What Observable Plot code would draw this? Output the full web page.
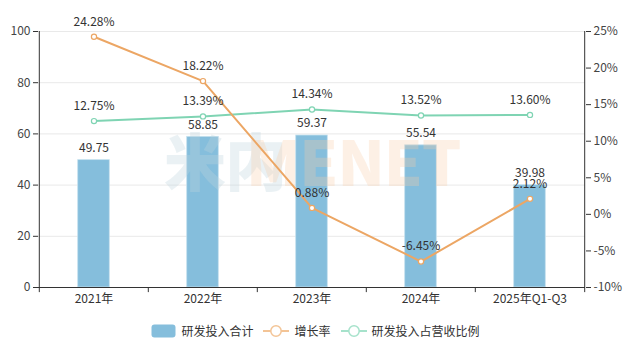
<!DOCTYPE html>
<html>
<head>
<meta charset="utf-8">
<script src="https://cdn.jsdelivr.net/npm/d3@7"></script>
<script src="https://cdn.jsdelivr.net/npm/@observablehq/plot@0.6"></script>
<style>
  html, body { margin: 0; padding: 0; background: #fff; }
  body { width: 635px; height: 357px; overflow: hidden; font-family: "Noto Sans CJK SC", "Noto Sans", sans-serif; }
  #wrap { position: relative; width: 635px; height: 315px; }
  #wrap > svg, #wrap > div { position: absolute; left: 0; top: 0; }
  #wm { width: 635px; height: 315px; pointer-events: none; }
  #wm span { position: absolute; font-weight: 900; font-size: 62px; line-height: 1; letter-spacing: -1px; }
  #legend { display: flex; justify-content: center; align-items: center; gap: 10px; margin-top: 7px; font-size: 12px; color: #333; padding-right: 4px; }
  #legend .item { display: flex; align-items: center; gap: 5px; }
</style>
</head>
<body>
<div id="wrap"></div>
<div id="legend"></div>
<script>
const categories = ["2021年", "2022年", "2023年", "2024年", "2025年Q1-Q3"];
const rdTotal = [49.75, 58.85, 59.37, 55.54, 39.98];
const growthRate = [24.28, 18.22, 0.88, -6.45, 2.12];
const rdRatio = [12.75, 13.39, 14.34, 13.52, 13.60];
const leftTicks = [0, 20, 40, 60, 80, 100];
const rightTicks = [-10, -5, 0, 5, 10, 15, 20, 25];
const seriesNames = ["研发投入合计", "增长率", "研发投入占营收比例"];

const rows = categories.map((c, i) => ({cat: c, total: rdTotal[i], growth: growthRate[i], ratio: rdRatio[i]}));

const W = 635, H = 315, ML = 38, MR = 50, MT = 31, MB = 28;
const bw = (W - ML - MR) / categories.length;
const barW = 32;
const barColor = "#85bedc", orange = "#eca664", green = "#7fd4b3";
const font = {fontFamily: "'Noto Sans CJK SC', 'Noto Sans', sans-serif", fontSize: "12px", color: "#333", background: "transparent"};
const xScale = {type: "band", domain: categories, padding: 0};

const chart1 = Plot.plot({
  width: W, height: H, marginLeft: ML, marginRight: MR, marginTop: MT, marginBottom: MB,
  style: font,
  x: xScale,
  y: {domain: [0, 100]},
  marks: [
    Plot.gridY(leftTicks, {stroke: "#e9e9e9", strokeOpacity: 1}),
    Plot.barY(rows, {x: "cat", y: "total", fill: barColor, stroke: "#c6e1ee", strokeWidth: 0.8, insetLeft: (bw - barW) / 2, insetRight: (bw - barW) / 2}),
    Plot.text(rows, {x: "cat", y: "total", text: d => d.total.toFixed(2), dy: -12, fill: "#333", fontSize: 12}),
    Plot.axisY(leftTicks, {tickSize: 5, tickPadding: 3, stroke: "#333", fill: "#444", fontSize: 12, label: null}),
    Plot.axisX({tickSize: 0, tickPadding: 7, fill: "#333", fontSize: 12, label: null}),
    Plot.ruleY([0], {stroke: "#333"}),
    Plot.ruleX([categories[0]], {dx: -bw / 2, stroke: "#333"}),
    Plot.ruleX(categories, {dx: -bw / 2, y1: 0, y2: -2, stroke: "#333"}),
    Plot.ruleX([categories[categories.length - 1]], {dx: bw / 2, y1: 0, y2: -2, stroke: "#333"})
  ]
});
document.getElementById("wrap").appendChild(chart1);

const wm = document.createElement("div");
wm.id = "wm";
wm.innerHTML = '<span style="left:164px;top:128px;color:rgba(190,210,222,0.32)">米内</span><span style="left:246px;top:128px;color:rgba(250,205,170,0.3)">MENET</span>';
document.getElementById("wrap").appendChild(wm);

const chart2 = Plot.plot({
  width: W, height: H, marginLeft: ML, marginRight: MR, marginTop: MT, marginBottom: MB,
  style: font,
  x: {...xScale, axis: null},
  y: {domain: [-10, 25], axis: null},
  marks: [
    Plot.axisY(rightTicks, {anchor: "right", tickSize: 5, tickPadding: 3, tickFormat: d => d + "%", stroke: "#333", fill: "#444", fontSize: 12, label: null}),
    Plot.ruleX([categories[categories.length - 1]], {dx: bw / 2, stroke: "#333"}),
    Plot.line(rows, {x: "cat", y: "ratio", stroke: green, strokeWidth: 2}),
    Plot.line(rows, {x: "cat", y: "growth", stroke: orange, strokeWidth: 2}),
    Plot.dot(rows, {x: "cat", y: "ratio", r: 2.6, fill: "white", stroke: green, strokeWidth: 1.2}),
    Plot.dot(rows, {x: "cat", y: "growth", r: 2.6, fill: "white", stroke: orange, strokeWidth: 1.2}),
    Plot.text(rows, {x: "cat", y: "ratio", text: d => d.ratio.toFixed(2) + "%", dy: -15, fill: "#333", fontSize: 12}),
    Plot.text(rows, {x: "cat", y: "growth", text: d => d.growth.toFixed(2) + "%", dy: -15, fill: "#333", fontSize: 12})
  ]
});
document.getElementById("wrap").appendChild(chart2);

const legend = document.getElementById("legend");
const sw = [
  `<svg width="25" height="14"><rect x="0.5" y="0.5" width="24" height="13" rx="3" fill="${barColor}"/></svg>`,
  `<svg width="26" height="14"><line x1="0" y1="7" x2="26" y2="7" stroke="#f3c496" stroke-width="2"/><circle cx="13" cy="7" r="5.2" fill="white" stroke="#f3c496" stroke-width="1.5"/></svg>`,
  `<svg width="26" height="14"><line x1="0" y1="7" x2="26" y2="7" stroke="#a6e2cb" stroke-width="2"/><circle cx="13" cy="7" r="5.2" fill="white" stroke="#a6e2cb" stroke-width="1.5"/></svg>`
];
seriesNames.forEach((n, i) => {
  const it = document.createElement("div");
  it.className = "item";
  it.innerHTML = sw[i] + `<span>${n}</span>`;
  legend.appendChild(it);
});
</script>
</body>
</html>
